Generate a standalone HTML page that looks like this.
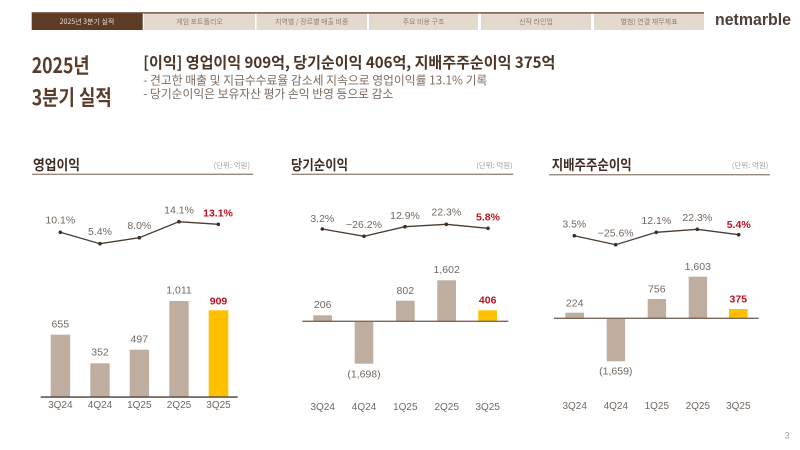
<!DOCTYPE html>
<html><head><meta charset="utf-8"><style>
html,body{margin:0;padding:0;background:#fff;}
svg{display:block;}
text{font-family:"Liberation Sans","Noto Sans CJK KR",sans-serif;}
.k{font-family:"Noto Sans CJK KR","Liberation Sans",sans-serif;}
.tab{font-size:7px;fill:#8c7f75;text-anchor:middle;dominant-baseline:central;}
.v{font-size:10.5px;fill:#72675f;text-anchor:middle;dominant-baseline:central;}
.r{font-size:10.5px;fill:#c0101a;font-weight:bold;text-anchor:middle;dominant-baseline:central;}
.c{font-size:10px;fill:#72675f;text-anchor:middle;dominant-baseline:central;}
.t{font-size:14px;fill:#3f2c22;font-weight:bold;dominant-baseline:central;}
.u{font-size:7.5px;fill:#a89c94;text-anchor:end;dominant-baseline:central;}
</style></head><body>
<svg width="800" height="450" viewBox="0 0 800 450" xmlns="http://www.w3.org/2000/svg">
<!-- nav -->
<rect x="31.7" y="13" width="111" height="17" fill="#5e3b25"/>
<rect x="144" y="13" width="111" height="17" fill="#e3d9cf"/>
<rect x="256.5" y="13" width="110.5" height="17" fill="#e3d9cf"/>
<rect x="369" y="13" width="109" height="17" fill="#e3d9cf"/>
<rect x="481" y="13" width="110" height="17" fill="#e3d9cf"/>
<rect x="594" y="13" width="110" height="17" fill="#e3d9cf"/>
<rect x="31.7" y="12.2" width="672.3" height="1.4" fill="#6b4a35"/>
<text class="tab k" x="87" y="22" style="fill:#eadfd3">2025년 3분기 실적</text>
<text class="tab k" x="199.5" y="22">게임 포트폴리오</text>
<text class="tab k" x="311.7" y="22">지역별 / 장르별 매출 비중</text>
<text class="tab k" x="423.5" y="22">주요 비용 구조</text>
<text class="tab k" x="536" y="22">신작 라인업</text>
<text class="tab k" x="649" y="22">별첨) 연결 재무제표</text>
<text x="715" y="19.5" style="font-size:17px;font-weight:bold;fill:#4d4039;dominant-baseline:central;" textLength="76" lengthAdjust="spacingAndGlyphs">netmarble</text>

<!-- title -->
<text class="k" x="31.7" y="65" style="font-size:21px;font-weight:bold;fill:#5a3c2b;dominant-baseline:central;" textLength="58" lengthAdjust="spacingAndGlyphs">2025년</text>
<text class="k" x="31.7" y="97" style="font-size:21px;font-weight:bold;fill:#5a3c2b;dominant-baseline:central;" textLength="80" lengthAdjust="spacingAndGlyphs">3분기 실적</text>
<text class="k" x="143.3" y="62" style="font-size:15.5px;font-weight:bold;fill:#4a3526;dominant-baseline:central;" textLength="412" lengthAdjust="spacingAndGlyphs">[이익] 영업이익 909억,  당기순이익 406억, 지배주주순이익 375억</text>
<text class="k" x="143.3" y="80" style="font-size:12px;fill:#7d6b5f;dominant-baseline:central;" textLength="344" lengthAdjust="spacingAndGlyphs">- 견고한 매출 및 지급수수료율 감소세 지속으로 영업이익률 13.1% 기록</text>
<text class="k" x="143.3" y="93.5" style="font-size:12px;fill:#7d6b5f;dominant-baseline:central;" textLength="250" lengthAdjust="spacingAndGlyphs">- 당기순이익은 보유자산 평가 손익 반영 등으로 감소</text>

<!-- Chart 1 -->
<text class="t k" x="33" y="165" textLength="47" lengthAdjust="spacingAndGlyphs">영업이익</text>
<text class="u k" x="250" y="165.5">(단위: 억원)</text>
<rect x="32" y="173.6" width="221" height="1.4" fill="#9a8a7e"/>
<polyline points="60.3,232.3 100,243.7 139.3,237.7 179,221.7 218.3,224.3" fill="none" stroke="#4a3c32" stroke-width="1.3"/>
<g fill="#3d2f26"><circle cx="60.3" cy="232.3" r="1.8"/><circle cx="100" cy="243.7" r="1.8"/><circle cx="139.3" cy="237.7" r="1.8"/><circle cx="179" cy="221.7" r="1.8"/><circle cx="218.3" cy="224.3" r="1.8"/></g>
<text class="v" x="60.3" y="220.7">10.1%</text>
<text class="v" x="100" y="232">5.4%</text>
<text class="v" x="139.3" y="226">8.0%</text>
<text class="v" x="179" y="210.7">14.1%</text>
<text class="r" x="218" y="213.3">13.1%</text>
<g fill="#bfada0">
<rect x="50.7" y="334.7" width="19.4" height="62.3"/>
<rect x="90.3" y="363.3" width="19.4" height="33.7"/>
<rect x="129.7" y="349.7" width="19.4" height="47.3"/>
<rect x="169.3" y="301" width="19.4" height="96"/>
</g>
<rect x="208.7" y="310.3" width="19.6" height="86.7" fill="#ffc000"/>
<rect x="40.7" y="396.3" width="197" height="1.5" fill="#5a4d45"/>
<text class="v" x="60.3" y="324.3">655</text>
<text class="v" x="100" y="352.7">352</text>
<text class="v" x="139.3" y="339.3">497</text>
<text class="v" x="179" y="290.7">1,011</text>
<text class="r" x="218.5" y="301.3">909</text>
<text class="c" x="60.3" y="405.7">3Q24</text>
<text class="c" x="100" y="405.7">4Q24</text>
<text class="c" x="139.3" y="405.7">1Q25</text>
<text class="c" x="179" y="405.7">2Q25</text>
<text class="c" x="218.5" y="405.7">3Q25</text>

<!-- Chart 2 -->
<text class="t k" x="291" y="165" textLength="57" lengthAdjust="spacingAndGlyphs">당기순이익</text>
<text class="u k" x="512.7" y="165.5">(단위: 억원)</text>
<rect x="291.7" y="173.6" width="221.6" height="1.4" fill="#9a8a7e"/>
<polyline points="322.3,229 364,236.3 405,226.7 446.3,224.3 488,228.3" fill="none" stroke="#4a3c32" stroke-width="1.3"/>
<g fill="#3d2f26"><circle cx="322.3" cy="229" r="1.8"/><circle cx="364" cy="236.3" r="1.8"/><circle cx="405" cy="226.7" r="1.8"/><circle cx="446.3" cy="224.3" r="1.8"/><circle cx="488" cy="228.3" r="1.8"/></g>
<text class="v" x="322.3" y="219">3.2%</text>
<text class="v" x="364" y="225">−26.2%</text>
<text class="v" x="405" y="216">12.9%</text>
<text class="v" x="446.3" y="212.7">22.3%</text>
<text class="r" x="488" y="217.7">5.8%</text>
<g fill="#bfada0">
<rect x="313.3" y="315.3" width="18.7" height="6"/>
<rect x="354.7" y="321.3" width="18.6" height="42.4"/>
<rect x="396" y="300.7" width="18.7" height="20.6"/>
<rect x="437.3" y="280.3" width="18.7" height="41"/>
</g>
<rect x="478.3" y="310.3" width="18.7" height="11" fill="#ffc000"/>
<rect x="302.3" y="320.6" width="206" height="1.4" fill="#7a6a5e"/>
<text class="v" x="322.7" y="305">206</text>
<text class="v" x="364" y="374.3">(1,698)</text>
<text class="v" x="405.3" y="291">802</text>
<text class="v" x="446.7" y="270">1,602</text>
<text class="r" x="487.7" y="300.7">406</text>
<text class="c" x="322.7" y="407.7">3Q24</text>
<text class="c" x="364" y="407.7">4Q24</text>
<text class="c" x="405.3" y="407.7">1Q25</text>
<text class="c" x="446.7" y="407.7">2Q25</text>
<text class="c" x="487.7" y="407.7">3Q25</text>

<!-- Chart 3 -->
<text class="t k" x="551.7" y="165" textLength="80" lengthAdjust="spacingAndGlyphs">지배주주순이익</text>
<text class="u k" x="768.3" y="165.5">(단위: 억원)</text>
<rect x="549" y="174" width="221" height="1.4" fill="#9a8a7e"/>
<polyline points="574.3,235.7 615.7,244.7 656.3,232.3 697.3,229.3 738.7,234.7" fill="none" stroke="#4a3c32" stroke-width="1.3"/>
<g fill="#3d2f26"><circle cx="574.3" cy="235.7" r="1.8"/><circle cx="615.7" cy="244.7" r="1.8"/><circle cx="656.3" cy="232.3" r="1.8"/><circle cx="697.3" cy="229.3" r="1.8"/><circle cx="738.7" cy="234.7" r="1.8"/></g>
<text class="v" x="574.3" y="224.3">3.5%</text>
<text class="v" x="615.7" y="233.3">−25.6%</text>
<text class="v" x="656.3" y="221">12.1%</text>
<text class="v" x="697.3" y="218">22.3%</text>
<text class="r" x="738.7" y="225">5.4%</text>
<g fill="#bfada0">
<rect x="565.3" y="312.7" width="18.7" height="5.7"/>
<rect x="606.7" y="318.3" width="18.4" height="43"/>
<rect x="647.7" y="299" width="18.4" height="19.3"/>
<rect x="688.7" y="276.7" width="18.4" height="41.6"/>
</g>
<rect x="729" y="309" width="18.7" height="9.3" fill="#ffc000"/>
<rect x="554" y="317.6" width="204.7" height="1.4" fill="#7a6a5e"/>
<text class="v" x="574.7" y="303.3">224</text>
<text class="v" x="615.8" y="371.7">(1,659)</text>
<text class="v" x="656.8" y="289.7">756</text>
<text class="v" x="697.8" y="267">1,603</text>
<text class="r" x="738.3" y="299.3">375</text>
<text class="c" x="574.7" y="406.7">3Q24</text>
<text class="c" x="615.8" y="406.7">4Q24</text>
<text class="c" x="656.8" y="406.7">1Q25</text>
<text class="c" x="697.8" y="406.7">2Q25</text>
<text class="c" x="738.3" y="406.7">3Q25</text>

<text x="787" y="435.7" style="font-size:9px;fill:#999;text-anchor:middle;dominant-baseline:central;">3</text>
</svg>
</body></html>
